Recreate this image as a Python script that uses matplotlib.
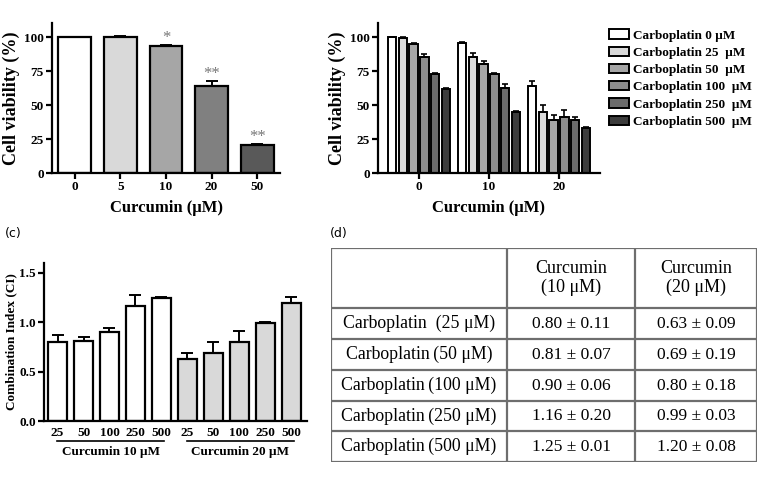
import matplotlib.pyplot as plt
import numpy as np

plt.rcParams['font.family'] = ['Liberation Serif', 'DejaVu Serif']

# (a) curcumin alone
curcumin_a = ['0', '5', '10', '20', '50']
viab_a = [100, 100, 93.5, 64, 20.5]
viab_a_err = [0, 0.5, 0.8, 3.6, 0.8]
stars_a = ['', '', '*', '**', '**']
colors_a = ['#ffffff', '#d9d9d9', '#a6a6a6', '#808080', '#595959']

# (b) curcumin + carboplatin
curcumin_b = ['0', '10', '20']
carbo_labels = ['Carboplatin 0 μM', 'Carboplatin 25  μM', 'Carboplatin 50  μM',
                'Carboplatin 100  μM', 'Carboplatin 250  μM', 'Carboplatin 500  μM']
viab_b = [[100, 95.3, 64],
          [99.5, 85, 45],
          [94.5, 80.5, 39],
          [85.5, 73, 41],
          [72.5, 62.3, 39],
          [62, 45, 33]]
viab_b_err = [[0, 0.8, 3.5],
              [0.5, 3, 5],
              [0.8, 1.8, 4],
              [2, 0.8, 5],
              [0.8, 3.5, 2],
              [0.8, 0.5, 0.5]]
colors_b = ['#ffffff', '#d9d9d9', '#a6a6a6', '#8c8c8c', '#6b6b6b', '#3c3c3c']

# (c) combination index
ci_doses = ['25', '50', '100', '250', '500']
ci_groups = ['Curcumin 10 μM', 'Curcumin 20 μM']
ci_10 = [0.80, 0.81, 0.90, 1.16, 1.25]
ci_20 = [0.63, 0.69, 0.80, 0.99, 1.20]
ci_10_err = [0.067, 0.045, 0.04, 0.12, 0.006]
ci_20_err = [0.06, 0.114, 0.108, 0.01, 0.057]
ci_10_sd = [0.11, 0.07, 0.06, 0.20, 0.01]
ci_20_sd = [0.09, 0.19, 0.18, 0.03, 0.08]
colors_c = ['#ffffff', '#d9d9d9']

# (d) table
table_cols = ['Curcumin\n(10 μM)', 'Curcumin\n(20 μM)']
table_rows = ['Carboplatin  (25 μM)', 'Carboplatin\u2009(50 μM)', 'Carboplatin\u2009(100 μM)',
              'Carboplatin\u2009(250 μM)', 'Carboplatin\u2009(500 μM)']


def style_axes(ax):
    for s in ['top', 'right']:
        ax.spines[s].set_visible(False)
    for s in ['left', 'bottom']:
        ax.spines[s].set_linewidth(1.6)
    ax.tick_params(width=1.6, length=4, labelsize=9.5, pad=2)
    for lab in ax.get_xticklabels() + ax.get_yticklabels():
        lab.set_fontweight('bold')


fig = plt.figure(figsize=(7.6, 4.86), dpi=100)
W, H = 760, 486


def px_axes(x0, y0, x1, y1):
    return fig.add_axes([x0 / W, 1 - y1 / H, (x1 - x0) / W, (y1 - y0) / H])


# ---- (a)
ax = px_axes(52, 23.4, 280, 173)
xa = np.arange(len(curcumin_a))
ax.bar(xa, viab_a, width=0.72, color=colors_a, edgecolor='black', linewidth=1.6, zorder=2)
ax.errorbar(xa, viab_a, yerr=[np.zeros(len(xa)), viab_a_err], fmt='none', ecolor='black',
            elinewidth=1.4, capsize=4, capthick=1.4, zorder=3)
for x, v, e, s in zip(xa, viab_a, viab_a_err, stars_a):
    if s:
        ax.annotate(s, (x, v + e), xytext=(0, -1), textcoords='offset points', ha='center',
                    va='bottom', fontsize=12, color='#777777')
ax.set_xlim(-0.5, 4.5)
ax.set_ylim(0, 110)
ax.set_yticks([0, 25, 50, 75, 100])
ax.set_xticks(xa)
ax.set_xticklabels(curcumin_a)
ax.set_ylabel('Cell viability (%)', fontsize=13, fontweight='bold', labelpad=3)
ax.set_xlabel('Curcumin (μM)', fontsize=12, fontweight='bold', labelpad=5)
style_axes(ax)

# ---- (b)
ax = px_axes(378, 23.4, 600, 173)
xb = np.arange(len(curcumin_b))
step = 0.153
for i, (vals, errs) in enumerate(zip(viab_b, viab_b_err)):
    pos = xb + (i - 2.5) * step
    ax.bar(pos, vals, width=0.12, color=colors_b[i], edgecolor='black', linewidth=1.4,
           label=carbo_labels[i], zorder=2)
    ax.errorbar(pos, vals, yerr=[np.zeros(len(pos)), errs], fmt='none', ecolor='black',
                elinewidth=1.2, capsize=2.5, capthick=1.2, zorder=3)
ax.set_xlim(-0.586, 2.586)
ax.set_ylim(0, 110)
ax.set_yticks([0, 25, 50, 75, 100])
ax.set_xticks(xb)
ax.set_xticklabels(curcumin_b)
ax.set_ylabel('Cell viability (%)', fontsize=13, fontweight='bold', labelpad=3)
ax.set_xlabel('Curcumin (μM)', fontsize=12, fontweight='bold', labelpad=5)
style_axes(ax)
handles, labels = ax.get_legend_handles_labels()
fig.legend(handles, labels, loc='upper left', bbox_to_anchor=(604 / W, 1 - 24 / H),
           frameon=False, prop={'weight': 'bold', 'size': 9.5}, handlelength=1.5,
           handleheight=0.7, handletextpad=0.3, labelspacing=0.38, borderaxespad=0)

# ---- (c)
fig.text(5 / W, 1 - 233 / H, '(c)', fontsize=9, family='DejaVu Sans', va='center')
ax = px_axes(44, 263, 307, 421)
ci_vals = ci_10 + ci_20
ci_errs = ci_10_err + ci_20_err
ci_colors = [colors_c[0]] * len(ci_10) + [colors_c[1]] * len(ci_20)
xc = np.arange(len(ci_vals))
ax.bar(xc, ci_vals, width=0.74, color=ci_colors, edgecolor='black', linewidth=1.6, zorder=2)
ax.errorbar(xc, ci_vals, yerr=[np.zeros(len(xc)), ci_errs], fmt='none', ecolor='black',
            elinewidth=1.4, capsize=4, capthick=1.4, zorder=3)
ax.set_xlim(-0.52, 9.6)
ax.set_ylim(0, 1.6)
ax.set_yticks([0, 0.5, 1.0, 1.5])
ax.set_xticks(xc)
ax.set_xticklabels(ci_doses * 2)
ax.set_ylabel('Combination Index (CI)', fontsize=9.5, fontweight='bold', labelpad=1)
style_axes(ax)
ax.tick_params(axis='x', length=0, pad=4)
for g, name in enumerate(ci_groups):
    x0 = g * 5 - 0.02
    x1 = g * 5 + 4.1
    ax.plot([x0, x1], [-0.127, -0.127], color='black', lw=1.2, clip_on=False,
            transform=ax.get_xaxis_transform())
    ax.text((x0 + x1) / 2, -0.196, name, ha='center', va='center', fontsize=9.5,
            fontweight='bold', transform=ax.get_xaxis_transform())

# ---- (d)
fig.text(330 / W, 1 - 233 / H, '(d)', fontsize=9, family='DejaVu Sans', va='center')
ax = px_axes(331, 248, 757, 462)
ax.set_xlim(331, 757)
ax.set_ylim(462, 248)
ax.axis('off')
col_edges = [331, 507, 635, 757]
row_edges = [248, 308, 339, 370, 401, 431, 462]
line_kw = dict(color='#6e6e6e', lw=1.6, solid_capstyle='projecting')
for y in row_edges:
    ax.plot([col_edges[0], col_edges[-1]], [y, y], **line_kw)
for x in col_edges:
    ax.plot([x, x], [row_edges[0], row_edges[-1]], **line_kw)
col_mid = [(a + b) / 2 for a, b in zip(col_edges[:-1], col_edges[1:])]
row_mid = [(a + b) / 2 for a, b in zip(row_edges[:-1], row_edges[1:])]
for j, name in enumerate(table_cols):
    ax.text(col_mid[j + 1], row_mid[0], name, ha='center', va='center', fontsize=13,
            linespacing=1.2)
for i, name in enumerate(table_rows):
    ax.text(col_mid[0], row_mid[i + 1], name, ha='center', va='center', fontsize=12.8)
    ax.text(col_mid[1], row_mid[i + 1], f'{ci_10[i]:.2f} ± {ci_10_sd[i]:.2f}',
            ha='center', va='center', fontsize=12.5)
    ax.text(col_mid[2], row_mid[i + 1], f'{ci_20[i]:.2f} ± {ci_20_sd[i]:.2f}',
            ha='center', va='center', fontsize=12.5)

fig.savefig('out.png', dpi=100)
